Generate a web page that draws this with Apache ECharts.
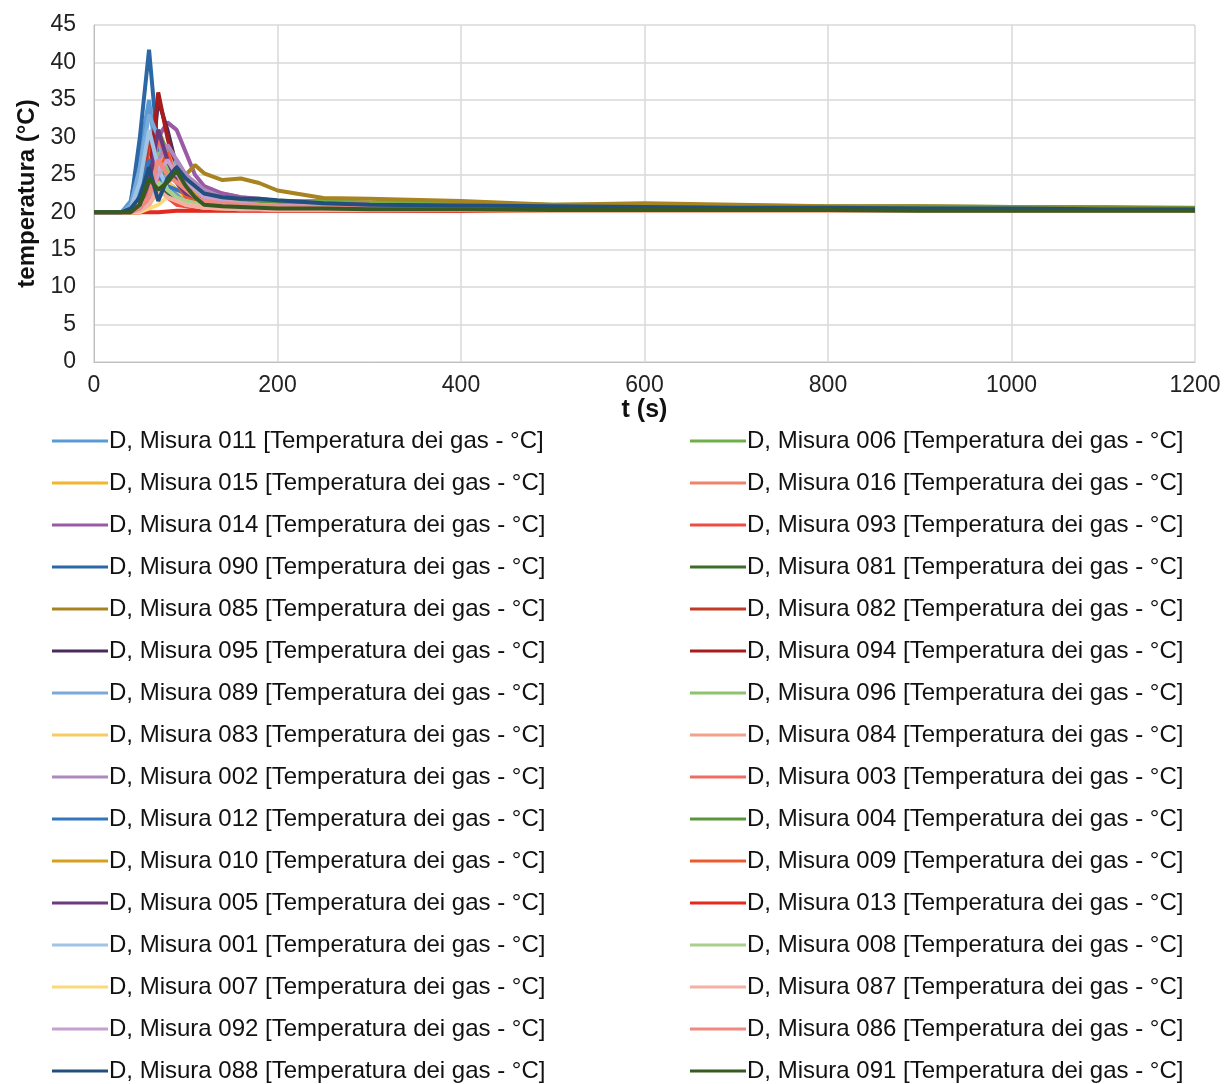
<!DOCTYPE html>
<html>
<head>
<meta charset="utf-8">
<script src="https://cdn.jsdelivr.net/npm/echarts@6/dist/echarts.min.js"></script>
<style>
  html, body { margin: 0; padding: 0; background: #fff; }
  #chart { width: 1226px; height: 1084px; }
</style>
</head>
<body>
<div id="chart"></div>
<script>
// sample times (s)
const times = [0, 30, 40, 50, 60, 70, 80, 90, 100, 110, 120, 140, 160, 180, 200, 250, 300, 400, 500, 600, 700, 800, 900, 1000, 1100, 1200];

// temperature readings per probe (°C)
const m011 = [20, 20, 21.5, 28, 35, 25, 23, 22.5, 22, 21.8, 21.5, 21.3, 21, 20.9, 20.8, 20.7, 20.6, 20.5, 20.5, 20.4, 20.4, 20.4, 20.3, 20.3, 20.3, 20.3];
const m006 = [20, 20, 20, 21, 23, 31, 28, 25, 23.5, 23, 22.5, 22, 21.8, 21.7, 21.5, 21.5, 21.3, 21.2, 21, 21, 20.9, 20.8, 20.8, 20.7, 20.7, 20.6];
const m015 = [20, 20, 20, 20.5, 21, 25, 27, 24, 23, 22, 21.5, 21.2, 21, 20.9, 20.8, 20.7, 20.6, 20.5, 20.5, 20.4, 20.4, 20.4, 20.3, 20.3, 20.3, 20.3];
const m016 = [20, 20, 20, 20.5, 22, 28, 26, 25, 24, 23.5, 23, 22.5, 22, 21.7, 21.5, 21.2, 21, 20.8, 20.7, 20.6, 20.6, 20.5, 20.5, 20.5, 20.4, 20.4];
const m014 = [20, 20, 20, 21, 23, 30, 32, 31, 28, 25, 23.5, 22.5, 22, 21.8, 21.5, 21.2, 21, 20.8, 20.7, 20.6, 20.6, 20.5, 20.5, 20.5, 20.4, 20.4];
const m093 = [20, 20, 20, 20.5, 29, 24, 22, 21, 20.8, 20.6, 20.5, 20.4, 20.4, 20.3, 20.3, 20.3, 20.3, 20.2, 20.2, 20.2, 20.2, 20.2, 20.2, 20.2, 20.2, 20.2];
const m090 = [20, 20, 21, 30, 41.7, 28, 24, 23, 22.5, 22, 21.8, 21.5, 21.3, 21.2, 21, 20.8, 20.7, 20.6, 20.5, 20.5, 20.4, 20.4, 20.4, 20.3, 20.3, 20.3];
const m081 = [20, 20, 20, 20.5, 22.5, 24, 22.5, 22, 21.5, 21.2, 21, 20.8, 20.7, 20.6, 20.5, 20.5, 20.4, 20.4, 20.3, 20.3, 20.3, 20.3, 20.3, 20.2, 20.2, 20.2];
const m085 = [20, 20, 20, 20, 21, 23, 24, 25, 25, 26.3, 25.2, 24.3, 24.5, 23.9, 22.9, 21.9, 21.8, 21.5, 21, 21.2, 21, 20.8, 20.8, 20.7, 20.6, 20.5];
const m082 = [20, 20, 20, 21, 30, 26, 23, 22, 21.5, 21, 20.8, 20.6, 20.5, 20.5, 20.4, 20.4, 20.3, 20.3, 20.3, 20.3, 20.2, 20.2, 20.2, 20.2, 20.2, 20.2];
const m095 = [20, 20, 20, 21, 23, 35, 31, 26, 24, 22.5, 22, 21.5, 21.2, 21, 20.9, 20.8, 20.7, 20.6, 20.5, 20.5, 20.4, 20.4, 20.4, 20.3, 20.3, 20.3];
const m094 = [20, 20, 20, 21, 24, 36, 30, 25, 23, 22, 21.5, 21.2, 21, 20.8, 20.7, 20.6, 20.5, 20.5, 20.4, 20.4, 20.4, 20.3, 20.3, 20.3, 20.3, 20.3];
const m089 = [20, 20, 21, 26, 33, 30, 24, 27, 25, 23, 22, 21.5, 21.2, 21, 20.9, 20.8, 20.7, 20.6, 20.5, 20.5, 20.4, 20.4, 20.4, 20.3, 20.3, 20.3];
const m096 = [20, 20, 20, 20.5, 22, 28, 26, 24, 23, 22.5, 22, 21.8, 21.5, 21.3, 21.2, 21, 20.9, 20.8, 20.7, 20.6, 20.6, 20.5, 20.5, 20.5, 20.4, 20.4];
const m083 = [20, 20, 20, 20.5, 21, 23, 24, 23, 22, 21.5, 21.2, 21, 20.8, 20.7, 20.6, 20.5, 20.5, 20.4, 20.4, 20.4, 20.3, 20.3, 20.3, 20.3, 20.3, 20.3];
const m084 = [20, 20, 20, 20.5, 21.5, 26, 28, 25, 23, 22, 21.5, 21.2, 21, 20.9, 20.8, 20.7, 20.6, 20.5, 20.5, 20.4, 20.4, 20.4, 20.3, 20.3, 20.3, 20.3];
const m002 = [20, 20, 20, 20.5, 22, 27, 29, 27, 25, 24, 23, 22, 21.5, 21.2, 21, 20.8, 20.7, 20.6, 20.5, 20.5, 20.4, 20.4, 20.4, 20.3, 20.3, 20.3];
const m003 = [20, 20, 20, 21, 23, 30, 27, 25, 24, 23, 22.5, 22, 21.5, 21.2, 21, 20.8, 20.7, 20.6, 20.5, 20.5, 20.4, 20.4, 20.4, 20.3, 20.3, 20.3];
const m012 = [20, 20, 20.5, 23, 27, 25, 23.5, 23, 22.5, 22, 21.8, 21.5, 21.3, 21.1, 21, 20.9, 20.8, 20.7, 20.6, 20.6, 20.5, 20.5, 20.5, 20.4, 20.4, 20.4];
const m004 = [20, 20, 20, 20.5, 22, 26, 25, 24, 23, 22.5, 22, 21.8, 21.5, 21.3, 21.2, 21, 20.9, 20.8, 20.7, 20.7, 20.6, 20.6, 20.5, 20.5, 20.5, 20.5];
const m010 = [20, 20, 20, 20.5, 22, 27, 25, 24, 23, 22.5, 22, 21.5, 21.2, 21, 20.9, 20.8, 20.7, 20.6, 20.6, 20.5, 20.5, 20.5, 20.4, 20.4, 20.4, 20.4];
const m009 = [20, 20, 20, 20, 21, 25, 28, 24, 22, 21.5, 21, 20.8, 20.6, 20.5, 20.5, 20.4, 20.4, 20.3, 20.3, 20.3, 20.3, 20.2, 20.2, 20.2, 20.2, 20.2];
const m005 = [20, 20, 20, 21, 24, 31, 27, 24, 22.5, 22, 21.5, 21.2, 21, 20.9, 20.8, 20.7, 20.6, 20.5, 20.5, 20.4, 20.4, 20.4, 20.3, 20.3, 20.3, 20.3];
const m013 = [20, 20, 20, 20, 20, 20, 20.1, 20.2, 20.2, 20.2, 20.2, 20.2, 20.2, 20.2, 20.2, 20.2, 20.2, 20.2, 20.2, 20.2, 20.2, 20.2, 20.2, 20.2, 20.2, 20.2];
const m001 = [20, 20, 20.5, 24, 31, 26, 23, 22, 21.5, 21.2, 21, 20.8, 20.7, 20.6, 20.5, 20.5, 20.4, 20.4, 20.3, 20.3, 20.3, 20.3, 20.3, 20.3, 20.3, 20.3];
const m008 = [20, 20, 20, 20.2, 21, 24, 23, 22, 21.5, 21.2, 21, 20.8, 20.7, 20.6, 20.5, 20.5, 20.4, 20.4, 20.3, 20.3, 20.3, 20.3, 20.3, 20.3, 20.3, 20.3];
const m007 = [20, 20, 20, 20, 20.5, 21, 22, 21.5, 21, 20.8, 20.6, 20.5, 20.4, 20.4, 20.3, 20.3, 20.3, 20.3, 20.2, 20.2, 20.2, 20.2, 20.2, 20.2, 20.2, 20.2];
const m087 = [20, 20, 20, 20.2, 21, 23, 22, 21.5, 21, 20.8, 20.6, 20.5, 20.4, 20.4, 20.3, 20.3, 20.3, 20.3, 20.2, 20.2, 20.2, 20.2, 20.2, 20.2, 20.2, 20.2];
const m092 = [20, 20, 20, 20.5, 22, 25, 27, 25, 24, 23, 22, 21.5, 21.2, 21, 20.9, 20.8, 20.7, 20.6, 20.5, 20.5, 20.5, 20.4, 20.4, 20.4, 20.4, 20.4];
const m086 = [20, 20, 20, 20.5, 22, 27, 25, 24, 23, 22, 21.5, 21.2, 21, 20.9, 20.8, 20.7, 20.6, 20.5, 20.5, 20.4, 20.4, 20.4, 20.3, 20.3, 20.3, 20.3];
const m088 = [20, 20, 20.5, 22, 26, 21.5, 24.5, 26, 24.5, 23.5, 22.5, 22, 21.8, 21.8, 21.6, 21.2, 21, 20.9, 20.8, 20.7, 20.6, 20.6, 20.5, 20.5, 20.4, 20.4];
const m091 = [20, 20, 20, 21, 24.5, 23, 24, 25.5, 23.5, 22, 21, 20.8, 20.7, 20.6, 20.5, 20.5, 20.4, 20.4, 20.3, 20.3, 20.3, 20.3, 20.2, 20.2, 20.2, 20.2];

const leftNames = ['011', '015', '014', '090', '085', '095', '089', '083', '002', '012', '010', '005', '001', '007', '092', '088'];
const rightNames = ['006', '016', '093', '081', '082', '094', '096', '084', '003', '004', '009', '013', '008', '087', '086', '091'];

const seriesData = {
    '011': m011, '006': m006, '015': m015, '016': m016, '014': m014, '093': m093,
    '090': m090, '081': m081, '085': m085, '082': m082, '095': m095, '094': m094,
    '089': m089, '096': m096, '083': m083, '084': m084, '002': m002, '003': m003,
    '012': m012, '004': m004, '010': m010, '009': m009, '005': m005, '013': m013,
    '001': m001, '008': m008, '007': m007, '087': m087, '092': m092, '086': m086,
    '088': m088, '091': m091
};

const colors = {
    '011': '#5b9bd5', '015': '#f2b530', '014': '#9a5ba6', '090': '#2c68a6',
    '085': '#a88420', '095': '#4a2a5c', '089': '#78aadb', '083': '#f8cc60',
    '002': '#b088c0', '012': '#3276bb', '010': '#d8a020', '005': '#6c3a7e',
    '001': '#a0c4e6', '007': '#fbd878', '092': '#c6a0d0', '088': '#22507e',
    '006': '#6fae4a', '016': '#f08468', '093': '#ee4c44', '081': '#3c6e2a',
    '082': '#c23a24', '094': '#a81c1c', '096': '#8cc46c', '084': '#f4a08c',
    '003': '#ee6c64', '004': '#5a963a', '009': '#ef5a2c', '013': '#e42a1e',
    '008': '#a8d08c', '087': '#f4b0a4', '086': '#ee8a80', '091': '#365a22'
};

const label = code => 'D, Misura ' + code + ' [Temperatura dei gas - °C]';

const chart = echarts.init(document.getElementById('chart'));

let series = [];
for (let i = 0; i < 16; i++) {
    [leftNames[i], rightNames[i]].forEach(code => {
        series.push({
            name: label(code),
            type: 'line',
            symbol: 'none',
            color: colors[code],
            lineStyle: { width: 4, color: colors[code] },
            data: times.map((t, k) => [t, seriesData[code][k]])
        });
    });
}

const font = 'Liberation Sans, Arial, sans-serif';

const legendBase = {
    orient: 'vertical',
    top: 429,
    height: 655,
    padding: 0,
    itemWidth: 56,
    itemHeight: 14,
    itemGap: 18,
    icon: 'path://M0,6 L56,6 L56,9 L0,9 Z',
    textStyle: { fontFamily: font, fontSize: 24, color: '#111', padding: [0, 0, 0, -4] },
    selectedMode: false
};

let option = {
    backgroundColor: '#fff',
    animation: false,
    grid: { left: 94, right: 31, top: 25, bottom: 722 },
    legend: [
        Object.assign({}, legendBase, { left: 52, data: leftNames.map(label) }),
        Object.assign({}, legendBase, { left: 690, data: rightNames.map(label) })
    ],
    xAxis: {
        type: 'value',
        min: 0,
        max: 1200,
        interval: 200,
        name: 't (s)',
        nameLocation: 'middle',
        nameGap: 30,
        nameTextStyle: { fontFamily: font, fontSize: 25, fontWeight: 'bold', color: '#111' },
        axisLine: { lineStyle: { color: '#bfbfbf' } },
        axisTick: { show: false },
        axisLabel: { fontFamily: font, fontSize: 23, color: '#222', margin: 12, formatter: v => String(v) },
        splitLine: { show: true, lineStyle: { color: '#d9d9d9', width: 1.5 } }
    },
    yAxis: {
        type: 'value',
        min: 0,
        max: 45,
        interval: 5,
        name: 'temperatura (°C)',
        nameLocation: 'middle',
        nameGap: 54,
        nameTextStyle: { fontFamily: font, fontSize: 24, fontWeight: 'bold', color: '#111' },
        axisLine: { show: true, lineStyle: { color: '#bfbfbf' } },
        axisTick: { show: false },
        axisLabel: { fontFamily: font, fontSize: 23, color: '#222', margin: 18 },
        splitLine: { show: true, lineStyle: { color: '#d9d9d9', width: 1.5 } }
    },
    series: series
};

chart.setOption(option);
</script>
</body>
</html>
